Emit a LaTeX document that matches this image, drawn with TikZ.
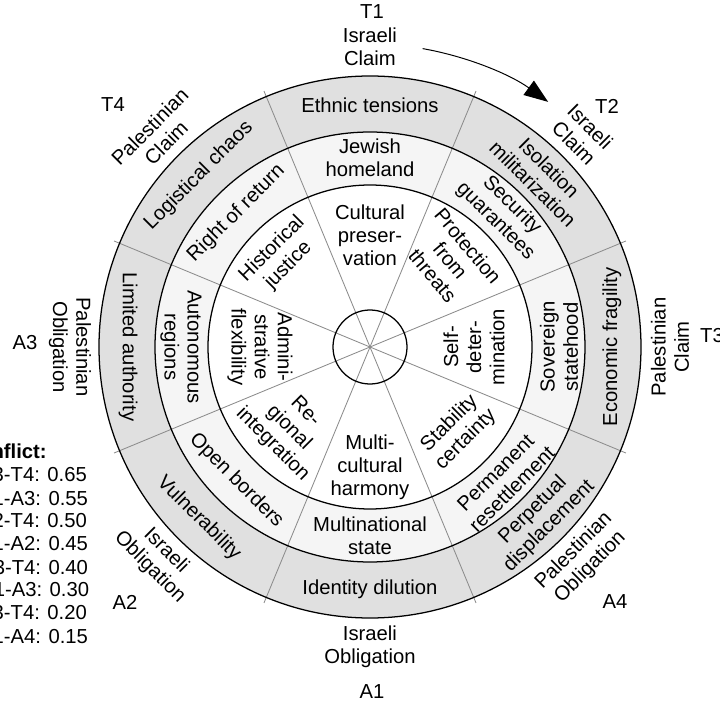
\documentclass[tikz,border=0pt]{standalone}
\usepackage{fontspec}
\setmainfont{Liberation Sans}
\usepackage{tikz}
\usetikzlibrary{arrows.meta,positioning}
\newcommand{\wheelfont}{\fontsize{14.4}{16.4}\selectfont}
\tikzset{
  ringline/.style = {draw, line width=0.9pt},
  spoke/.style    = {draw=black!45, line width=0.6pt},
  seg/.style      = {align=center, inner sep=0pt, font=\wheelfont},
  tag/.style      = {inner sep=0pt, font=\wheelfont},
  legend/.style   = {inner sep=0pt, font=\wheelfont, anchor=base west},
  turn/.style     = {-{Triangle[length=6mm,width=4.4mm]}, line width=0.7pt}
}

\begin{document}
\begin{tikzpicture}
\path[use as bounding box, clip] (-9.25,-8.925) rectangle (8.75,8.675);
\coordinate (c) at (0,0);

% --- rings ---
\fill[black!12] (c) circle (6.775);
\fill[black!4]  (c) circle (5.375);
\fill[white]    (c) circle (4.05);
\foreach \a in {22.5,67.5,...,337.5}
  \draw[spoke] (c) -- (\a:6.925);
\foreach \r in {6.775,5.375,4.05,0.925}
  \draw[ringline] (c) circle (\r);

% --- outer ring ---
\foreach \a/\rot/\txt [count=\i] in {
    90/0/{Ethnic tensions}, 45/-45/{Isolation\\militarization},
    0/90/{Economic fragility}, -45/45/{Perpetual\\displacement},
    -90/0/{Identity dilution}, -135/-45/{Vulnerability},
    180/-90/{Limited authority}, 135/45/{Logistical chaos}}
  \node[seg, rotate=\rot] (out\i) at (\a:6.05) {\txt};

% --- middle ring ---
\foreach \a/\rot/\txt [count=\i] in {
    90/0/{Jewish\\homeland}, 45/-45/{Security\\guarantees},
    0/90/{Sovereign\\statehood}, -45/45/{Permanent\\resettlement},
    -90/0/{Multinational\\state}, -135/-45/{Open borders},
    180/-90/{Autonomous\\regions}, 135/45/{Right of return}}
  \node[seg, rotate=\rot] (mid\i) at (\a:4.725) {\txt};

% --- inner ring ---
\foreach \a/\rot/\r/\txt [count=\i] in {
    90/0/2.8/{Cultural\\preser-\\vation}, 47/-50/2.95/{Protection\\from\\threats},
    0/90/2.6/{Self-\\deter-\\mination}, -44/45/3.05/{Stability\\certainty},
    -90/0/3.0/{Multi-\\cultural\\harmony}, -135/-45/2.875/{Re-\\gional\\integration},
    180/-90/2.75/{Admini-\\strative\\flexibility}, 135/45/3.175/{Historical\\justice}}
  \node[seg, rotate=\rot] (in\i) at (\a:\r) {\txt};

% --- claims / obligations round the wheel ---
\foreach \a/\rot/\txt [count=\i] in {
    90/0/{Israeli\\Claim}, 45/-45/{Israeli\\Claim},
    0/90/{Palestinian\\Claim}, -45/45/{Palestinian\\Obligation},
    -90/0/{Israeli\\Obligation}, -135/-45/{Israeli\\Obligation},
    180/-90/{Palestinian\\Obligation}, 135/45/{Palestinian\\Claim}}
  \node[seg, rotate=\rot] (lab\i) at (\a:7.5) {\txt};

\node[tag] (T1) at (0.05,8.375) {T1};
\node[tag] (T2) at (5.925,6.025) {T2};
\node[tag] (T3) at (8.55,0.275) {T3};
\node[tag] (T4) at (-6.425,6.05) {T4};
\node[tag] (A1) at (0.05,-8.625) {A1};
\node[tag] (A2) at (-6.125,-6.375) {A2};
\node[tag] (A3) at (-8.625,0.1) {A3};
\node[tag] (A4) at (6.125,-6.375) {A4};

% turning direction
\coordinate (arcS) at (80:7.575);
\draw[turn] (arcS) arc[start angle=80, end angle=54, radius=7.575];

% --- conflict list ---
\node[tag, font=\wheelfont\bfseries, anchor=base east] (legT) at (-8.075,-2.8) {Conflict:};
\foreach \pr [count=\k from 0] in {T3-T4: 0.65, T1-A3: 0.55, T2-T4: 0.50,
    T1-A2: 0.45, A3-T4: 0.40, A1-A3: 0.30, T3-T4: 0.20, T1-A4: 0.15}
  \node[legend] (leg\k) at (-9.75,{-3.375-0.575*\k}) {\pr};

\end{tikzpicture}
\end{document}
